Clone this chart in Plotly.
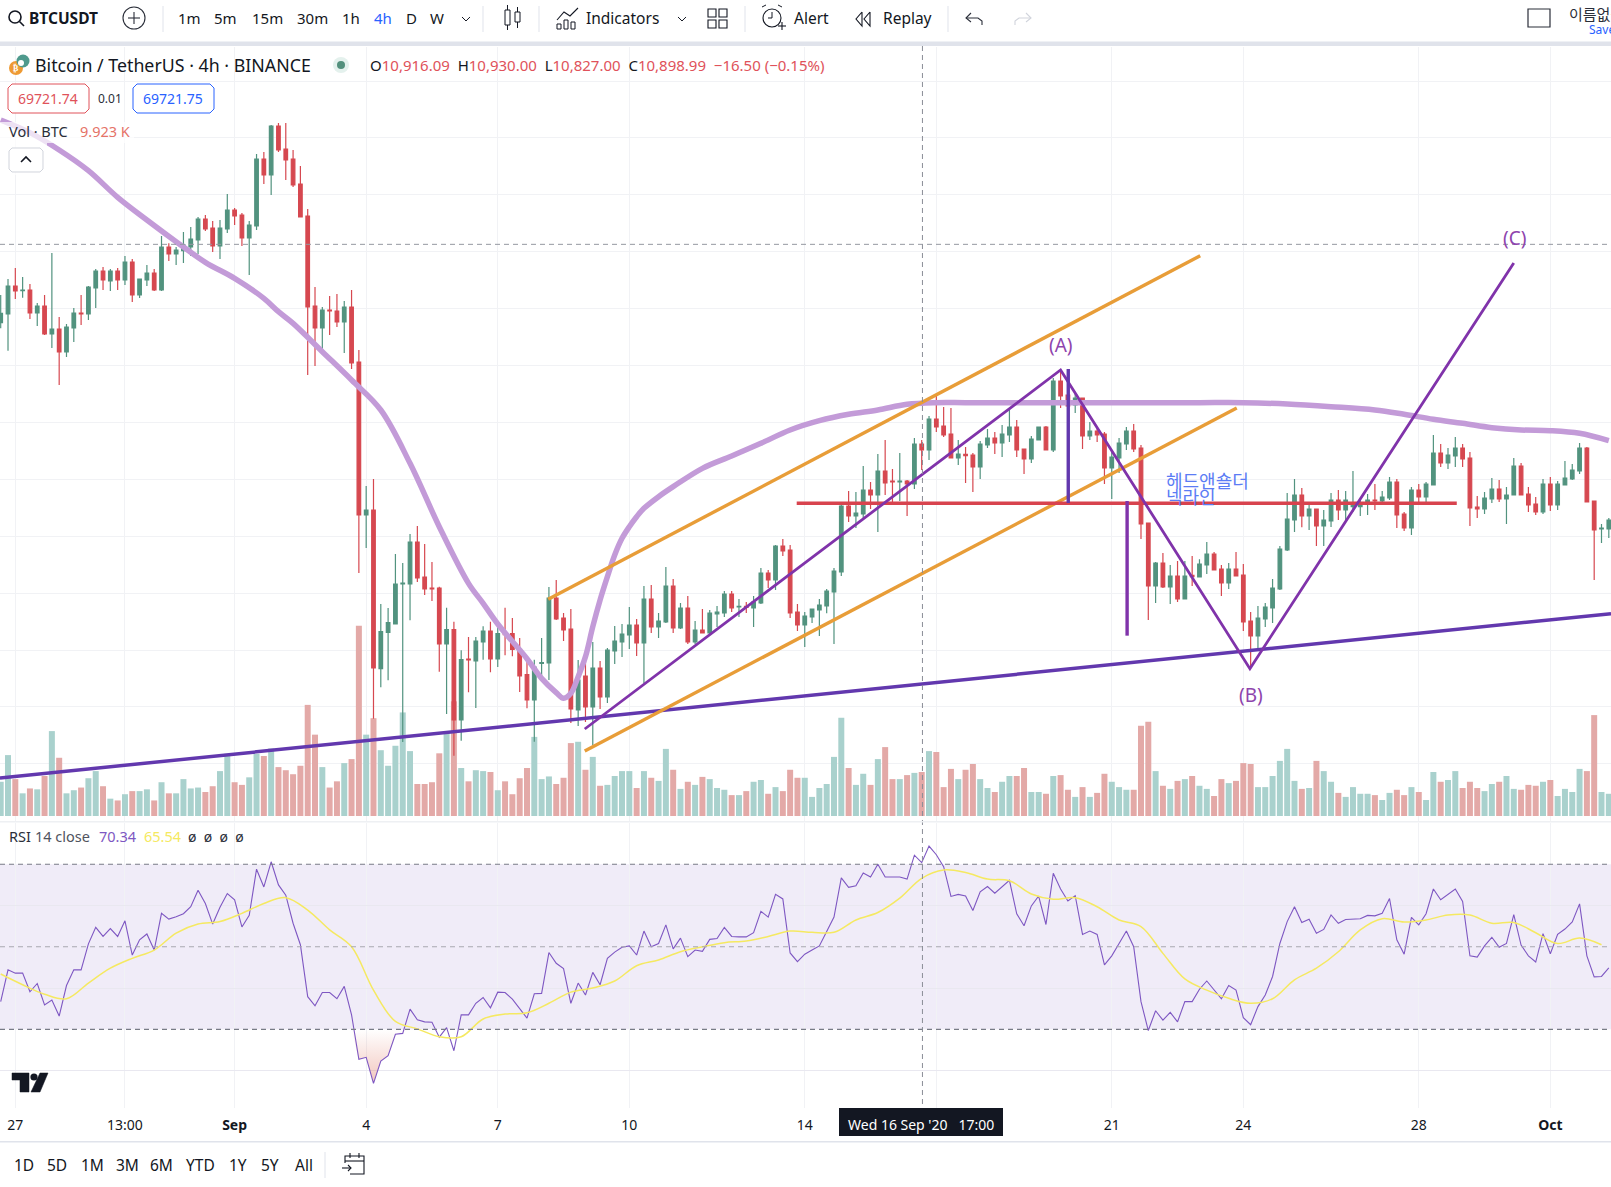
"""TradingView style BTCUSDT 4h chart with volume, RSI and hand drawn wave lines."""

import pandas as pd
import plotly.graph_objects as go

WIDTH = 1611
HEIGHT = 1187
FONT = "Noto Sans"
TEXT = "#131722"
RED = "#d64850"
GREEN = "#52937f"
GRID = "#f1f2f5"

FIRST_BAR = "2020-08-26 17:00"

opens = [
    11267, 11293, 11377, 11363, 11365, 11296, 11317, 11233, 11248, 11179,
    11251, 11296, 11293, 11371, 11422, 11392, 11422, 11395, 11449, 11350,
    11395, 11416, 11365, 11494, 11473, 11483, 11494, 11515, 11578, 11551,
    11497, 11548, 11605, 11590, 11521, 11557, 11758, 11710, 11857, 11788,
    11758, 11683, 11587, 11317, 11251, 11305, 11302, 11269, 11314, 11149,
    10690, 10705, 10229, 10338, 10363, 10483, 10483, 10609, 10504, 10471,
    10471, 10303, 10346, 10075, 10258, 10252, 10309, 10342, 10258, 10335,
    10334, 10287, 10211, 10135, 10245, 10246, 10441, 10381, 10348, 10105,
    10207, 10114, 10231, 10144, 10282, 10309, 10330, 10360, 10306, 10438,
    10354, 10369, 10477, 10351, 10411, 10309, 10345, 10336, 10393, 10396,
    10453, 10414, 10416, 10411, 10426, 10516, 10495, 10597, 10585, 10399,
    10360, 10384, 10405, 10417, 10459, 10519, 10717, 10687, 10693, 10765,
    10750, 10822, 10792, 10789, 10792, 10783, 10903, 10885, 10978, 10957,
    10933, 10861, 10872, 10870, 10834, 10900, 10921, 10906, 10930, 10954,
    10888, 10858, 10915, 10954, 10885, 11092, 11050, 11020, 11041, 10927,
    10942, 10933, 10831, 10861, 10903, 10942, 10891, 10666, 10477, 10546,
    10474, 10507, 10438, 10509, 10504, 10540, 10573, 10528, 10486, 10528,
    10510, 10372, 10327, 10378, 10411, 10468, 10585, 10675, 10750, 10687,
    10708, 10657, 10672, 10735, 10705, 10715, 10715, 10729, 10735, 10732,
    10741, 10789, 10693, 10651, 10765, 10744, 10780, 10876, 10846, 10867,
    10891, 10861, 10714, 10708, 10738, 10768, 10738, 10750, 10837, 10753,
    10723, 10699, 10783, 10720, 10780, 10798, 10822, 10891, 10732, 10648,
    10648,
]
highs = [
    11350, 11398, 11431, 11404, 11383, 11326, 11350, 11476, 11284, 11263,
    11311, 11350, 11377, 11428, 11434, 11428, 11431, 11467, 11458, 11398,
    11440, 11428, 11527, 11505, 11494, 11539, 11554, 11584, 11590, 11572,
    11575, 11653, 11611, 11596, 11572, 11773, 11779, 11860, 11866, 11866,
    11785, 11737, 11608, 11374, 11314, 11347, 11353, 11332, 11365, 11185,
    10777, 10798, 10423, 10411, 10573, 10546, 10633, 10657, 10603, 10549,
    10475, 10412, 10370, 10284, 10324, 10324, 10356, 10370, 10359, 10412,
    10381, 10321, 10259, 10256, 10321, 10474, 10495, 10396, 10408, 10255,
    10255, 10309, 10252, 10291, 10357, 10363, 10414, 10378, 10477, 10480,
    10396, 10534, 10498, 10426, 10447, 10372, 10408, 10405, 10417, 10462,
    10462, 10438, 10429, 10447, 10531, 10525, 10600, 10618, 10600, 10423,
    10399, 10408, 10438, 10468, 10531, 10720, 10762, 10759, 10837, 10789,
    10873, 10915, 10828, 10876, 10795, 10921, 10915, 10987, 11050, 11014,
    11011, 10915, 10894, 10876, 10912, 10948, 10939, 10960, 11008, 10975,
    10888, 10927, 10954, 10957, 11101, 11125, 11080, 11055, 11041, 10969,
    10950, 10939, 10885, 10921, 10954, 10963, 10900, 10666, 10549, 10576,
    10540, 10552, 10552, 10567, 10557, 10609, 10579, 10540, 10546, 10579,
    10543, 10399, 10417, 10426, 10498, 10597, 10756, 10798, 10771, 10724,
    10708, 10705, 10756, 10765, 10762, 10822, 10740, 10753, 10783, 10762,
    10804, 10798, 10699, 10774, 10783, 10789, 10930, 10903, 10891, 10924,
    10903, 10879, 10747, 10759, 10801, 10795, 10774, 10861, 10846, 10774,
    10744, 10798, 10804, 10792, 10852, 10843, 10906, 10894, 10732, 10663,
    10681,
]
lows = [
    11250, 11183, 11338, 11342, 11278, 11257, 11230, 11191, 11080, 11164,
    11209, 11260, 11275, 11311, 11365, 11362, 11365, 11380, 11329, 11341,
    11377, 11362, 11362, 11452, 11440, 11446, 11467, 11473, 11542, 11479,
    11458, 11536, 11560, 11497, 11410, 11545, 11683, 11650, 11779, 11695,
    11674, 11584, 11110, 11137, 11185, 11230, 11254, 11176, 11128, 10516,
    10591, 10079, 10173, 10194, 10363, 10009, 10374, 10489, 10450, 10432,
    10220, 10093, 9968, 10013, 10158, 10111, 10256, 10218, 10234, 10269,
    10266, 10159, 10110, 10010, 10200, 10195, 10375, 10312, 10066, 10057,
    10069, 10000, 10108, 10126, 10243, 10264, 10288, 10267, 10185, 10336,
    10321, 10366, 10336, 10348, 10303, 10303, 10336, 10333, 10354, 10384,
    10399, 10384, 10396, 10354, 10423, 10471, 10465, 10567, 10381, 10342,
    10294, 10366, 10327, 10395, 10303, 10507, 10669, 10651, 10681, 10708,
    10639, 10750, 10729, 10732, 10687, 10768, 10825, 10855, 10939, 10924,
    10861, 10840, 10786, 10759, 10798, 10891, 10873, 10864, 10909, 10864,
    10813, 10846, 10915, 10885, 10879, 11011, 11000, 10996, 10888, 10915,
    10909, 10783, 10738, 10816, 10885, 10879, 10618, 10375, 10426, 10471,
    10423, 10429, 10438, 10477, 10504, 10513, 10525, 10447, 10468, 10507,
    10342, 10230, 10285, 10354, 10366, 10465, 10582, 10639, 10653, 10645,
    10597, 10597, 10654, 10675, 10670, 10700, 10687, 10690, 10705, 10729,
    10735, 10651, 10642, 10630, 10725, 10729, 10780, 10834, 10828, 10834,
    10834, 10657, 10681, 10693, 10726, 10729, 10663, 10750, 10750, 10699,
    10690, 10693, 10702, 10705, 10780, 10795, 10813, 10729, 10495, 10606,
    10621,
]
closes = [
    11295, 11377, 11362, 11365, 11296, 11317, 11233, 11248, 11179, 11254,
    11296, 11293, 11374, 11422, 11395, 11422, 11395, 11449, 11350, 11398,
    11416, 11365, 11494, 11473, 11485, 11500, 11518, 11578, 11548, 11497,
    11551, 11605, 11587, 11521, 11560, 11758, 11710, 11857, 11785, 11755,
    11680, 11584, 11314, 11251, 11305, 11302, 11269, 11314, 11146, 10690,
    10705, 10231, 10340, 10367, 10483, 10486, 10609, 10501, 10468, 10468,
    10303, 10346, 10075, 10256, 10255, 10312, 10342, 10258, 10334, 10331,
    10287, 10207, 10135, 10234, 10247, 10441, 10378, 10345, 10108, 10195,
    10114, 10231, 10144, 10285, 10312, 10333, 10360, 10306, 10438, 10354,
    10372, 10477, 10351, 10411, 10309, 10345, 10336, 10396, 10399, 10453,
    10411, 10416, 10413, 10429, 10516, 10495, 10597, 10582, 10396, 10360,
    10387, 10408, 10420, 10462, 10522, 10717, 10687, 10696, 10765, 10750,
    10822, 10786, 10789, 10792, 10783, 10903, 10885, 10978, 10954, 10930,
    10861, 10873, 10868, 10834, 10903, 10921, 10906, 10933, 10954, 10885,
    10858, 10918, 10954, 10885, 11092, 11047, 11017, 11041, 10927, 10942,
    10930, 10831, 10864, 10906, 10942, 10888, 10663, 10477, 10546, 10474,
    10507, 10438, 10507, 10505, 10543, 10573, 10525, 10486, 10528, 10507,
    10369, 10327, 10381, 10414, 10471, 10588, 10678, 10750, 10687, 10708,
    10657, 10675, 10735, 10705, 10735, 10725, 10725, 10735, 10732, 10744,
    10789, 10690, 10651, 10765, 10744, 10783, 10876, 10846, 10870, 10891,
    10858, 10711, 10708, 10741, 10768, 10738, 10750, 10837, 10750, 10720,
    10699, 10783, 10720, 10783, 10801, 10825, 10891, 10729, 10645, 10651,
    10675,
]
volumes = [
    7.7, 13.7, 8.3, 5.1, 6.2, 6.0, 9.0, 19.1, 13.1, 5.1,
    5.8, 6.4, 8.5, 10.1, 6.7, 3.9, 3.5, 4.9, 5.6, 5.6,
    6.0, 3.5, 7.6, 5.1, 5.1, 8.3, 6.2, 6.4, 5.4, 6.7,
    10.1, 14.0, 7.6, 7.0, 8.7, 14.0, 13.5, 15.2, 11.0, 10.3,
    9.4, 11.3, 25.0, 18.3, 11.0, 6.4, 7.8, 11.9, 12.8, 42.8,
    18.3, 22.0, 14.8, 11.3, 15.8, 23.3, 14.6, 7.2, 7.2, 7.6,
    14.1, 18.9, 25.8, 10.8, 7.8, 10.3, 10.1, 9.9, 5.8, 7.8,
    4.9, 8.5, 10.8, 17.8, 8.3, 8.9, 7.2, 8.6, 16.4, 16.7,
    10.4, 13.3, 6.8, 7.0, 9.0, 10.1, 10.1, 6.3, 10.1, 8.6,
    7.9, 15.1, 10.4, 6.1, 7.7, 7.0, 8.8, 8.3, 6.3, 5.9,
    4.7, 4.7, 5.6, 7.7, 8.1, 5.0, 6.5, 5.6, 10.4, 8.6,
    8.6, 4.3, 6.3, 7.2, 13.3, 22.1, 10.8, 7.0, 9.5, 7.0,
    12.8, 15.5, 8.3, 8.3, 9.2, 9.7, 9.9, 14.6, 14.4, 6.5,
    10.6, 8.3, 10.4, 11.7, 8.3, 6.3, 5.4, 7.7, 9.0, 9.0,
    10.8, 5.4, 5.4, 5.0, 9.0, 9.2, 5.9, 4.3, 6.5, 4.3,
    5.2, 9.5, 7.7, 6.5, 5.9, 5.9, 20.3, 21.2, 10.1, 6.8,
    6.1, 7.9, 8.3, 9.0, 6.8, 6.1, 4.5, 8.3, 7.4, 7.9,
    11.9, 11.7, 6.5, 6.5, 9.0, 12.4, 15.1, 7.9, 6.1, 6.3,
    12.4, 10.1, 7.7, 5.2, 4.3, 6.5, 5.0, 5.0, 4.7, 3.6,
    5.2, 5.9, 4.7, 6.5, 5.4, 3.6, 9.9, 7.7, 8.1, 10.1,
    6.3, 7.7, 6.3, 5.6, 7.2, 7.7, 9.0, 6.1, 5.9, 7.0,
    6.8, 7.7, 8.1, 4.5, 6.1, 5.4, 10.6, 10.1, 22.7, 5.4,
    5.0,
]
rsi = [
    36.7, 44.4, 43.6, 43.6, 39.1, 41.1, 35.9, 37.1, 33.2, 40.6,
    44.4, 44.4, 50.7, 54.7, 52.5, 54.4, 52.5, 56.3, 48.0, 51.7,
    53.1, 49.2, 58.1, 56.7, 57.3, 58.0, 59.7, 63.7, 60.5, 55.5,
    59.6, 62.9, 61.4, 54.8, 57.6, 68.8, 64.5, 70.6, 65.0, 62.5,
    55.7, 50.5, 37.9, 35.7, 38.9, 38.9, 37.4, 40.4, 33.5, 22.7,
    23.2, 16.9, 22.3, 23.6, 28.8, 29.0, 34.9, 32.3, 31.8, 31.7,
    28.1, 30.4, 24.8, 33.5, 33.5, 36.3, 37.7, 35.2, 39.0, 38.9,
    37.3, 34.9, 32.7, 38.6, 38.7, 48.6, 46.0, 44.7, 36.3, 41.2,
    38.3, 43.8, 40.8, 47.2, 48.7, 49.9, 50.2, 48.0, 53.8, 50.0,
    50.8, 55.3, 49.5, 52.1, 47.6, 49.2, 48.9, 51.8, 52.0, 54.7,
    52.5, 52.4, 52.4, 53.4, 58.6, 57.2, 62.7, 61.6, 48.5, 46.4,
    48.2, 49.2, 50.2, 53.7, 57.2, 66.7, 64.4, 64.8, 67.9, 66.9,
    70.0, 66.9, 66.9, 66.9, 66.4, 72.2, 70.4, 74.4, 72.3, 69.4,
    62.2, 62.7, 62.3, 58.8, 63.3, 64.6, 63.0, 64.6, 66.1, 58.0,
    55.1, 59.9, 62.3, 55.4, 67.8, 64.0, 61.1, 62.4, 53.0, 53.8,
    53.0, 45.6, 47.8, 50.8, 53.8, 50.0, 36.7, 29.7, 34.5, 32.2,
    34.1, 31.8, 36.7, 36.7, 39.7, 41.7, 39.5, 37.4, 40.6, 39.5,
    32.8, 31.1, 35.5, 38.3, 42.8, 50.8, 56.1, 59.7, 55.9, 56.7,
    53.3, 54.2, 57.7, 55.7, 56.6, 56.7, 56.8, 57.6, 57.5, 58.1,
    61.7, 51.7, 48.2, 57.1, 55.3, 58.0, 64.0, 61.4, 62.7, 64.0,
    61.0, 47.8, 47.5, 50.2, 52.3, 49.9, 50.8, 57.8, 50.4, 47.8,
    46.3, 53.2, 48.3, 53.0, 54.3, 56.0, 60.4, 47.8, 42.7, 42.8,
    44.9,
]
# read at every third bar
rsi_ma = [
    43.4, 40.8, 38.5, 37.4, 41.2, 44.8, 47.2, 49.2, 53.3, 55.5,
    56.1, 58.1, 60.5, 61.9, 58.9, 54.1, 50.0, 39.5, 31.9, 30.1,
    28.2, 28.2, 32.5, 33.7, 34.0, 36.3, 39.0, 40.0, 41.7, 45.4,
    46.8, 48.8, 50.0, 51.0, 51.4, 52.5, 53.8, 53.5, 53.5, 56.5,
    58.3, 61.8, 66.6, 68.6, 68.0, 66.4, 66.0, 62.8, 61.5, 61.9,
    59.7, 56.5, 54.9, 48.4, 42.2, 39.5, 37.5, 36.3, 37.4, 42.0,
    44.8, 48.8, 54.1, 56.8, 56.0, 56.5, 57.7, 57.7, 55.7, 55.9,
    53.4, 50.8, 52.1, 50.5,
]
ma_bars = [
    0, 4, 8, 12, 16, 20, 24, 28, 32, 36, 38, 40, 44, 48, 52, 56, 60, 64, 66,
    68, 72, 74, 76, 77, 78, 79, 80, 81, 82, 83, 84, 85, 86, 87, 88, 90, 92,
    96, 100, 104, 108, 112, 116, 120, 124, 128, 132, 140, 148, 156, 164, 170,
    176, 182, 188, 192, 196, 200, 204, 208, 212, 216, 220,
]
ma_values = [
    11875, 11837, 11785, 11723, 11643, 11575, 11510, 11448, 11400, 11340, 11300,
    11265, 11180, 11095, 11005, 10845, 10655, 10485, 10425,
    10363, 10259, 10200, 10157, 10140, 10155, 10205, 10265, 10355, 10435, 10505,
    10570, 10620, 10655, 10685, 10710, 10745, 10775,
    10830, 10867, 10905, 10945, 10973, 10992, 11005, 11022, 11027, 11027, 11027,
    11027, 11027, 11027, 11027,
    11023, 11015, 11005, 10992, 10977, 10965, 10952, 10945, 10943, 10935, 10913,
]

tick_bars = [2, 17, 32, 50, 68, 86, 110, 128, 152, 170, 194, 212]
tick_labels = ["27", "13:00", "<b>Sep</b>", "4", "7", "10", "14", "", "21", "24", "28", "<b>Oct</b>"]

# hand drawn lines, as fractional bar number and price
support_bars = [-0.1, 220.3]
support_prices = [9901, 10394]
channel_top_bars = [74.9, 164.1]
channel_top_prices = [10437, 11468]
channel_low_bars = [79.9, 169.1]
channel_low_prices = [9982, 11011]
wave_bars = [79.9, 145.0, 170.9, 207.0]
wave_prices = [10048, 11125, 10229, 11446]
neck_bars = [108.9, 199.2]
neck_prices = [10725, 10725]
drop_a_bars = [146.05, 146.05]
drop_a_prices = [11128, 10726]
drop_b_bars = [154.1, 154.1]
drop_b_prices = [10732, 10328]

assert len(opens) == len(highs) == len(lows) == len(closes) == len(volumes) == len(rsi) == 221
assert len(ma_bars) == len(ma_values)

FOUR_HOURS = pd.Timedelta(hours=4)
START = pd.Timestamp(FIRST_BAR)


def bar_time(i):
    return (START + FOUR_HOURS * i).strftime("%Y-%m-%d %H:%M:%S")


def bar_times(bars):
    return [bar_time(i) for i in bars]


def px(x):
    return x / WIDTH


def py(y):
    return 1 - y / HEIGHT


times = bar_times(range(len(closes)))
fig = go.Figure()

# volume sits on the primary axis so the candles draw on top of it
fig.add_trace(go.Bar(
    x=times,
    y=volumes,
    width=FOUR_HOURS.total_seconds() * 1000 * 0.82,
    marker_color=["#a9d1cd" if c >= o else "#e3a9a7" for o, c in zip(opens, closes)],
    marker_line_width=0,
    xaxis="x",
    yaxis="y",
))
fig.add_trace(go.Candlestick(
    x=times,
    open=opens,
    high=highs,
    low=lows,
    close=closes,
    increasing=dict(line=dict(color=GREEN, width=1.2), fillcolor=GREEN),
    decreasing=dict(line=dict(color=RED, width=1.2), fillcolor=RED),
    xaxis="x",
    yaxis="y2",
))


def drawn_line(bars, prices, color, width, shape="linear"):
    fig.add_trace(go.Scatter(
        x=bar_times(bars),
        y=prices,
        mode="lines",
        line=dict(color=color, width=width, shape=shape),
        xaxis="x",
        yaxis="y2",
    ))


drawn_line(ma_bars, ma_values, "#c39bd8", 5.5, "spline")
drawn_line(support_bars, support_prices, "#6238ae", 3.5)
drawn_line(channel_top_bars, channel_top_prices, "#e89d38", 3.4)
drawn_line(channel_low_bars, channel_low_prices, "#e89d38", 3.4)
drawn_line(neck_bars, neck_prices, "#d8434e", 3.5)
drawn_line(wave_bars, wave_prices, "#8033aa", 2.8)
drawn_line(drop_a_bars, drop_a_prices, "#6238ae", 3.4)
drawn_line(drop_b_bars, drop_b_prices, "#8033aa", 3.4)

# oversold shading under 30
OVERSOLD = range(48, 57)
fig.add_trace(go.Scatter(
    x=bar_times(OVERSOLD),
    y=[30] * len(OVERSOLD),
    mode="lines",
    line=dict(width=0),
    xaxis="x",
    yaxis="y3",
))
fig.add_trace(go.Scatter(
    x=bar_times(OVERSOLD),
    y=[min(rsi[i], 30) for i in OVERSOLD],
    mode="lines",
    line=dict(width=0),
    fill="tonexty",
    fillgradient=dict(
        type="vertical",
        colorscale=[[0, "rgba(224,120,100,0.45)"], [1, "rgba(224,120,100,0)"]],
        start=16,
        stop=30,
    ),
    xaxis="x",
    yaxis="y3",
))
fig.add_trace(go.Scatter(
    x=times,
    y=rsi,
    mode="lines",
    line=dict(color="#7e57c2", width=1.1),
    xaxis="x",
    yaxis="y3",
))
fig.add_trace(go.Scatter(
    x=times[::3],
    y=rsi_ma,
    mode="lines",
    line=dict(color="#f5e961", width=1.5, shape="spline"),
    xaxis="x",
    yaxis="y3",
))

shapes = []
annotations = []


def rect(x0, y0, x1, y1, fill=None, line=None, width=1, opacity=1, layer="above"):
    shapes.append(dict(
        type="rect", xref="paper", yref="paper", layer=layer, opacity=opacity,
        x0=px(x0), x1=px(x1), y0=py(y0), y1=py(y1),
        fillcolor=fill or "rgba(0,0,0,0)",
        line=dict(color=line or "rgba(0,0,0,0)", width=width if line else 0),
    ))


def circle(cx, cy, r, fill=None, line=None, width=1):
    shapes.append(dict(
        type="circle", xref="paper", yref="paper", layer="above",
        x0=px(cx - r), x1=px(cx + r), y0=py(cy + r), y1=py(cy - r),
        fillcolor=fill or "rgba(0,0,0,0)",
        line=dict(color=line or "rgba(0,0,0,0)", width=width if line else 0),
    ))


def stroke(points, color=TEXT, width=1.2, closed=False, fill=None):
    path = "M " + " L ".join(f"{px(x):.5f} {py(y):.5f}" for x, y in points)
    if closed:
        path += " Z"
    shapes.append(dict(
        type="path", xref="paper", yref="paper", layer="above", path=path,
        fillcolor=fill or "rgba(0,0,0,0)",
        line=dict(color=color, width=width),
    ))


def label(x, y, text, size=15, color=TEXT, anchor="center", family=FONT):
    # annotations carry a little padding on the left
    if anchor == "left":
        x -= 2.5
    annotations.append(dict(
        xref="paper", yref="paper", x=px(x), y=py(y), text=text,
        xanchor=anchor, yanchor="middle", showarrow=False,
        font=dict(family=family, size=size, color=color),
    ))


def price_label(bar, price, text, size, color, anchor="center", family=FONT):
    annotations.append(dict(
        xref="x", yref="y2", x=bar_time(bar), y=price, text=text,
        xanchor=anchor, yanchor="middle", showarrow=False,
        font=dict(family=family, size=size, color=color),
    ))


# RSI band and its dashed limits
shapes.append(dict(
    type="rect", xref="paper", yref="y3", layer="below", x0=0, x1=1, y0=30, y1=70,
    fillcolor="#f0ecf8", line=dict(width=0),
))
for level, dash_color in ((70, "#787b86"), (50, "#a8a8b0"), (30, "#787b86")):
    shapes.append(dict(
        type="line", xref="paper", yref="y3", layer="above", x0=0, x1=1, y0=level, y1=level,
        line=dict(color=dash_color, width=1.2, dash="5px,4px"),
    ))

# crosshair
shapes.append(dict(
    type="line", xref="x", yref="paper", layer="above",
    x0=bar_time(126.1), x1=bar_time(126.1), y0=py(46), y1=py(1108),
    line=dict(color="#8a8d96", width=1, dash="5px,4px"),
))
shapes.append(dict(
    type="line", xref="paper", yref="y2", layer="above", x0=0, x1=1, y0=11502, y1=11502,
    line=dict(color="#9598a1", width=1, dash="5px,4px"),
))
rect(839, 1108, 1003, 1136, fill="#131722")
label(921, 1124, "Wed 16 Sep '20&nbsp;&nbsp;&nbsp;17:00", 14, "#ffffff")

# wave labels on the chart
price_label(145.0, 11200, "(A)", 19, "#8e44ad")
price_label(171.0, 10150, "(B)", 19, "#8e44ad")
price_label(207.1, 11520, "(C)", 19, "#8e44ad")
price_label(159.1, 10794, "헤드앤숄더", 18, "#5b7cf5", "left", "Noto Sans CJK KR")
price_label(159.1, 10748, "넥라인", 18, "#5b7cf5", "left", "Noto Sans CJK KR")

# toolbar frame
rect(0, 0, WIDTH, 41.5, fill="#ffffff")
rect(0, 41.5, WIDTH, 46, fill="#e0e3eb")
rect(0, 1141, WIDTH, 1142.5, fill="#e0e3eb")
rect(0, 821, WIDTH, 822.5, fill="#eef0f3")
for x in (163, 483, 539, 745, 948):
    stroke([(x, 6), (x, 32)], "#e0e3eb", 1)
stroke([(325, 1152), (325, 1178)], "#e0e3eb", 1)

# search icon
circle(15, 17, 6, line=TEXT, width=1.6)
stroke([(19.5, 21.5), (24, 26)], TEXT, 1.6)
label(29, 18, "<b>BTCUSDT</b>", 15.5, anchor="left")
circle(134, 18, 11, line="#2a2e39", width=1.1)
stroke([(134, 12), (134, 24)], "#2a2e39", 1.1)
stroke([(128, 18), (140, 18)], "#2a2e39", 1.1)

for x, text, color in (
    (189, "1m", TEXT), (225, "5m", TEXT), (267, "15m", TEXT), (312, "30m", TEXT),
    (351, "1h", TEXT), (383, "4h", "#2962ff"), (411, "D", TEXT), (437, "W", TEXT),
):
    label(x, 18, text, 15, color)
stroke([(462, 17), (466, 21), (470, 17)], TEXT, 1)

# candle icon
rect(505, 10, 510, 25, line=TEXT, width=1)
stroke([(507.5, 5), (507.5, 10)], TEXT, 1)
stroke([(507.5, 25), (507.5, 30)], TEXT, 1)
rect(515, 12, 520, 22, line=TEXT, width=1)
stroke([(517.5, 7), (517.5, 12)], TEXT, 1)
stroke([(517.5, 22), (517.5, 28)], TEXT, 1)

# indicators icon
stroke([(557, 20), (564, 12), (570, 16), (578, 8)], TEXT, 1.1)
rect(557, 24, 561, 29, line=TEXT, width=1)
rect(564, 20, 568, 29, line=TEXT, width=1)
rect(571, 22, 575, 29, line=TEXT, width=1)
label(622, 18, "Indicators", 15.5)
stroke([(678, 17), (682, 21), (686, 17)], TEXT, 1)
for x0, y0 in ((708, 9), (719, 9), (708, 20), (719, 20)):
    rect(x0, y0, x0 + 8, y0 + 8, line=TEXT, width=1.1)

# alert icon
circle(772, 18, 9, line=TEXT, width=1.1)
stroke([(772, 12), (772, 18), (768, 18)], TEXT, 1)
stroke([(762, 7), (766, 5)], TEXT, 1)
stroke([(782, 7), (778, 5)], TEXT, 1)
stroke([(778, 26), (786, 26)], TEXT, 1.1)
stroke([(782, 22), (782, 30)], TEXT, 1.1)
label(811, 18, "Alert", 15.5)
stroke([(862, 12), (856, 19), (862, 26), (862, 12)], TEXT, 1.1)
stroke([(870, 12), (864, 19), (870, 26), (870, 12)], TEXT, 1.1)
label(907, 18, "Replay", 15.5)
stroke([(971, 13), (966, 18), (971, 22)], "#2a2e39", 1.1)
stroke([(966, 18), (978, 18), (982, 21), (982, 25)], "#2a2e39", 1.1)
stroke([(1026, 13), (1031, 18), (1026, 22)], "#d1d4dc", 1.1)
stroke([(1031, 18), (1019, 18), (1015, 21), (1015, 25)], "#d1d4dc", 1.1)

# top right corner
rect(1528, 9, 1550, 27, line="#2a2e39", width=1.2)
label(1569, 13, "이름없음", 15, "#2a2e39", "left", "Noto Sans CJK KR")
label(1589, 29, "Save", 12, "#2962ff", "left")

# chart title row
circle(16, 68, 7, fill="#ee9a33")
label(16, 68, "<b>₿</b>", 8, "#ffffff", family="DejaVu Sans")
circle(23, 61, 6.5, fill="#4f9a8d")
circle(21, 63, 3, fill="#ffffff")
label(35, 65, "Bitcoin / TetherUS · 4h · BINANCE", 17.8, anchor="left")
circle(341, 65, 8, fill="#e4f1ed")
circle(341, 65, 4, fill="#53907d")
label(
    370, 65,
    'O<span style="color:#e0525a">10,916.09</span>&nbsp;&nbsp;'
    'H<span style="color:#e0525a">10,930.00</span>&nbsp;&nbsp;'
    'L<span style="color:#e0525a">10,827.00</span>&nbsp;&nbsp;'
    'C<span style="color:#e0525a">10,898.99</span>&nbsp;&nbsp;'
    '<span style="color:#e0525a">−16.50 (−0.15%)</span>',
    15, anchor="left",
)

# bid and ask boxes
stroke([(12, 84), (85, 84), (89, 88), (89, 109), (85, 113), (12, 113), (8, 109), (8, 88)], "#e0525a", 1, True, "#ffffff")
label(48, 98, "69721.74", 14, "#e0525a")
label(110, 98, "0.01", 12, "#2a2e39")
stroke([(137, 84), (210, 84), (214, 88), (214, 109), (210, 113), (137, 113), (133, 109), (133, 88)], "#2962ff", 1, True, "#ffffff")
label(173, 98, "69721.75", 14, "#2962ff")

# volume legend veils the lines behind it
rect(0, 122, 134, 143, fill="#ffffff", opacity=0.7)
rect(0, 143, 47, 175, fill="#ffffff", opacity=0.7)
label(9, 131, "Vol · BTC", 14.5, "#2a2e39", "left")
label(80, 131, "9.923 K", 14.5, "#e57368", "left")
stroke([(12, 148), (40, 148), (43, 151), (43, 169), (40, 172), (12, 172), (9, 169), (9, 151)], "#d1d4dc", 1, True, "#ffffff")
stroke([(21, 162), (26, 157), (31, 162)], TEXT, 1.6)

# RSI legend
label(9, 836, "RSI", 14.5, "#2a2e39", "left")
label(35, 836, "14 close", 14.5, "#50535e", "left")
label(99, 836, "70.34", 14.5, "#7e57c2", "left")
label(144, 836, "65.54", 14.5, "#f5e961", "left")
label(188, 836, "ø&nbsp;&nbsp;ø&nbsp;&nbsp;ø&nbsp;&nbsp;ø", 14, "#2a2e39", "left")

# logo
stroke([(12, 1073), (29, 1073), (29, 1092), (20, 1092), (20, 1080), (12, 1080)], TEXT, 0.5, True, TEXT)
circle(34, 1077, 3.6, fill=TEXT)
stroke([(40, 1073), (48, 1073), (40, 1092), (31, 1092)], TEXT, 0.5, True, TEXT)

# range buttons
for x, text in (
    (24, "1D"), (57, "5D"), (92, "1M"), (127, "3M"), (161, "6M"),
    (200, "YTD"), (238, "1Y"), (270, "5Y"), (304, "All"),
):
    label(x, 1165, text, 15.5)
rect(345, 1156, 364, 1174, line=TEXT, width=1.1)
stroke([(345, 1161), (364, 1161)], TEXT, 1.1)
stroke([(350, 1153), (350, 1158)], TEXT, 1.1)
stroke([(359, 1153), (359, 1158)], TEXT, 1.1)
rect(341, 1163, 350, 1176, fill="#ffffff")
stroke([(342, 1168), (351, 1168)], TEXT, 1.1)
stroke([(348, 1165), (351, 1168), (348, 1171)], TEXT, 1.1)

fig.update_layout(
    width=WIDTH,
    height=HEIGHT,
    margin=dict(l=0, r=0, t=0, b=0),
    paper_bgcolor="#ffffff",
    plot_bgcolor="#ffffff",
    showlegend=False,
    dragmode=False,
    barmode="overlay",
    hovermode=False,
    font=dict(family=FONT, color=TEXT),
    shapes=shapes,
    annotations=annotations,
    xaxis=dict(
        type="date",
        range=[bar_time(-0.096), bar_time(220.3)],
        domain=[0, 1],
        anchor="y3",
        rangeslider=dict(visible=False),
        tickmode="array",
        tickvals=bar_times(tick_bars),
        ticktext=tick_labels,
        tickfont=dict(family=FONT, size=14, color=TEXT),
        ticks="outside",
        ticklen=4,
        tickcolor="rgba(0,0,0,0)",
        showgrid=True,
        gridcolor=GRID,
        gridwidth=1,
        showline=False,
        zeroline=False,
    ),
    yaxis=dict(
        domain=[py(821), py(47)],
        range=[-1.125, 173],
        anchor="x",
        showgrid=False,
        showticklabels=False,
        zeroline=False,
        showline=False,
    ),
    yaxis2=dict(
        range=[9772, 12094],
        overlaying="y",
        anchor="x",
        tick0=11992,
        dtick=170.7,
        showgrid=True,
        gridcolor=GRID,
        gridwidth=1,
        showticklabels=False,
        zeroline=False,
        showline=False,
    ),
    yaxis3=dict(
        domain=[py(1108), py(823)],
        range=[10.92, 80],
        anchor="x",
        tickmode="array",
        tickvals=[20, 40, 60],
        showgrid=True,
        gridcolor="#e9e8f0",
        gridwidth=1,
        showticklabels=False,
        zeroline=False,
        showline=False,
    ),
)

fig.write_html(
    "out.html",
    config={"displayModeBar": False},
    post_script="document.body.style.margin='0';document.body.style.overflow='hidden';",
)
